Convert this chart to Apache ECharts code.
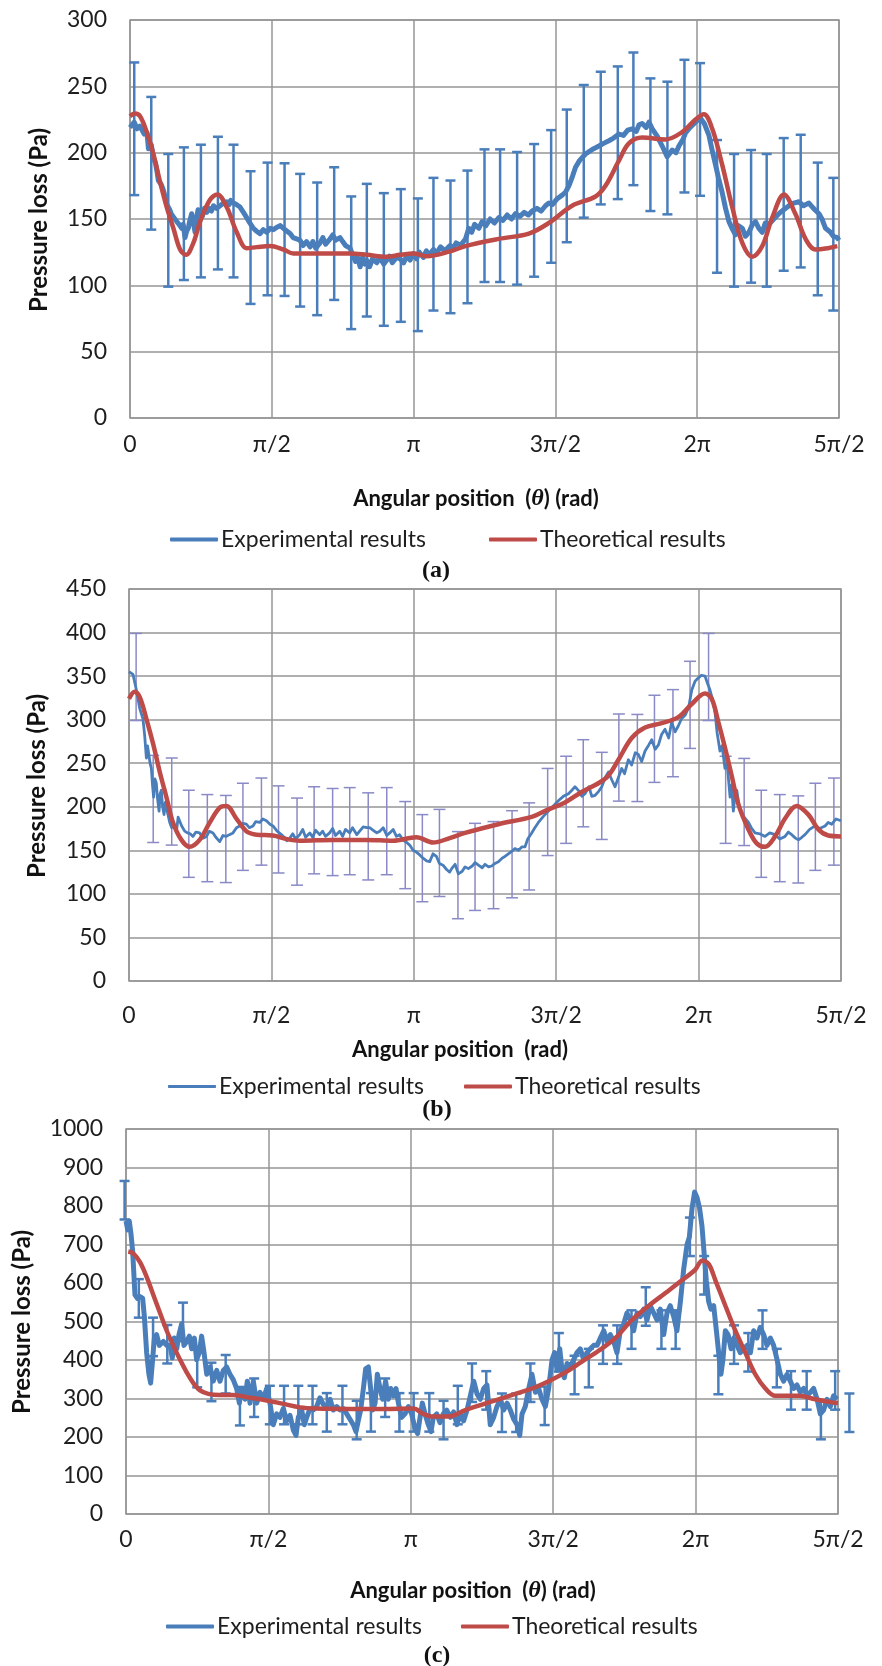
<!DOCTYPE html>
<html>
<head>
<meta charset="utf-8">
<script src="https://cdn.jsdelivr.net/npm/echarts@6.0.0/dist/echarts.min.js"></script>
<style>
  html, body { margin: 0; padding: 0; background: #fff; }
  #chart { width: 882px; height: 1666px; }
</style>
</head>
<body>
<div id="chart"></div>
<script>
// angular position is stored in multiples of pi/2 (0 .. 5 -> 0 .. 5pi/2)
const thetaLabels = ['0', 'π/2', 'π', '3π/2', '2π', '5π/2'];

// ---- (a) ----
const expA = [
  [0,219],[0.03,223],[0.05,218],[0.07,220],[0.10,214],[0.12,215],[0.13,203],[0.15,206],[0.165,196],[0.18,192],
  [0.19,186],[0.20,179],[0.22,176],[0.235,172],[0.25,166],[0.26,161],[0.28,157],[0.29,154],[0.31,151],[0.33,148],
  [0.345,146],[0.365,143],[0.375,146],[0.388,136],[0.40,141],[0.411,143],[0.42,148],[0.435,154],[0.447,147],[0.459,140],
  [0.47,151],[0.48,157],[0.494,156],[0.51,152],[0.525,158],[0.541,155],[0.56,158],[0.575,156],[0.588,160],[0.61,158],
  [0.635,160],[0.66,162],[0.682,163],[0.70,161],[0.71,164],[0.729,162],[0.75,161],[0.776,159],[0.80,155],[0.823,151],
  [0.845,147],[0.87,143],[0.89,141],[0.917,139],[0.94,142],[0.964,140],[0.99,143],[1.011,142],[1.04,144],[1.06,145],
  [1.082,143],[1.105,141],[1.129,139],[1.15,136],[1.175,135],[1.199,134],[1.22,130],[1.245,133],[1.27,129],[1.29,133],
  [1.31,128],[1.34,132],[1.36,136],[1.38,131],[1.411,135],[1.43,138],[1.45,134],[1.481,136],[1.50,133],[1.52,130],
  [1.552,128],[1.57,123],[1.59,118],[1.605,121],[1.623,114],[1.64,121],[1.655,116],[1.67,119],[1.69,114],[1.71,120],
  [1.74,117],[1.76,121],[1.79,116],[1.811,119],[1.83,122],[1.85,117],[1.88,121],[1.905,120],[1.93,117],[1.95,122],
  [1.975,119],[1.999,124],[2.02,120],[2.04,125],[2.069,121],[2.09,126],[2.11,123],[2.14,127],[2.16,124],[2.19,129],
  [2.22,126],[2.257,130],[2.28,128],[2.30,132],[2.33,130],[2.366,135],[2.389,143],[2.41,140],[2.43,146],[2.46,143],
  [2.483,148],[2.51,145],[2.54,150],[2.57,147],[2.601,151],[2.63,149],[2.66,153],[2.69,150],[2.718,154],[2.75,152],
  [2.78,155],[2.81,153],[2.836,156],[2.87,158],[2.90,156],[2.93,160],[2.954,162],[2.98,161],[3.01,165],[3.048,168],
  [3.07,170],[3.095,175],[3.12,182],[3.142,189],[3.17,194],[3.212,199],[3.24,201],[3.27,203],[3.307,205],[3.34,207],
  [3.377,209],[3.41,211],[3.448,214],[3.48,213],[3.51,217],[3.541,218],[3.57,216],[3.59,221],[3.612,222],[3.64,219],
  [3.66,223],[3.683,218],[3.72,212],[3.753,205],[3.788,197],[3.81,200],[3.824,202],[3.85,200],[3.871,205],[3.90,210],
  [3.918,215],[3.95,219],[3.988,223],[4.023,226],[4.05,222],[4.083,213],[4.105,202],[4.129,191],[4.15,181],[4.176,170],
  [4.20,158],[4.224,148],[4.25,142],[4.27,138],[4.29,145],[4.318,143],[4.34,137],[4.365,140],[4.39,146],[4.411,148],
  [4.435,143],[4.459,140],[4.48,147],[4.506,146],[4.54,150],[4.576,154],[4.61,157],[4.647,160],[4.68,162],[4.717,163],
  [4.75,160],[4.788,162],[4.82,158],[4.859,154],[4.88,150],[4.905,143],[4.94,140],[4.96,137],[4.988,136],[5.00,134]
];
const theoA = [
  [0,227.5],[0.035,229.5],[0.071,227.5],[0.118,215.5],[0.165,199],[0.212,178],[0.259,159],[0.306,143],[0.353,127],[0.395,123],
  [0.447,132],[0.494,148],[0.564,164.5],[0.616,168.5],[0.682,159],[0.753,140],[0.823,128],[0.894,128.8],[0.988,129.6],[1.082,127],
  [1.152,124],[1.317,124],[1.552,124],[1.670,123],[1.811,121.5],[1.905,123],[1.999,124],[2.093,122],[2.257,125.6],[2.366,129.6],
  [2.601,135],[2.813,139],[2.954,147],[3.118,160],[3.283,167],[3.353,175],[3.448,194],[3.518,207],[3.612,211.4],[3.776,210],
  [3.894,215.5],[3.988,225],[4.047,229],[4.106,218],[4.176,191],[4.247,159],[4.318,132],[4.388,121.5],[4.459,129.6],[4.529,151],
  [4.612,168.5],[4.693,153.7],[4.764,135],[4.835,127],[4.905,127.7],[4.988,129.6]
];
const errA_theta = [0.03,0.15,0.27,0.38,0.50,0.62,0.73,0.85,0.97,1.09,1.20,1.32,1.44,1.56,1.67,1.79,1.91,2.03,2.14,2.26,
  2.38,2.50,2.61,2.73,2.85,2.97,3.08,3.20,3.32,3.44,3.55,3.67,3.79,3.91,4.02,4.14,4.26,4.38,4.49,4.61,4.73,4.85,4.96];
const errA_mid = [218,192,149,154,156,162,156,136,142.5,142,134,127.5,139,117,126.5,119.5,122.5,115.5,131,129,
  136.5,152.5,152.5,150.5,156.5,167,182.5,201,211,215,225.5,206,203.5,220,217.5,159.5,149,152,149,161,163.5,142.5,131];

// ---- (b) ----
const expB = [
  [0,355],[0.028,352],[0.052,334],[0.075,313],[0.098,301],[0.11,282],[0.122,256],[0.13,270],[0.140,268],[0.148,250],
  [0.157,244],[0.165,225],[0.173,211],[0.182,232],[0.192,227],[0.20,210],[0.211,195],[0.219,215],[0.227,219],[0.236,200],
  [0.246,191],[0.255,205],[0.263,203],[0.275,190],[0.286,182],[0.30,176],[0.31,181],[0.321,178],[0.335,174],[0.345,188],
  [0.356,186],[0.37,178],[0.391,172],[0.41,170],[0.43,169],[0.449,166],[0.47,171],[0.496,170],[0.52,164],[0.544,166],
  [0.565,172],[0.59,170],[0.61,165],[0.637,160],[0.66,167],[0.684,166],[0.705,168],[0.73,170],[0.755,176],[0.777,178],
  [0.80,181],[0.824,180],[0.845,176],[0.871,178],[0.89,183],[0.918,182],[0.94,186],[0.965,184],[0.99,180],[1.011,178],
  [1.04,172],[1.07,168],[1.09,165],[1.11,161],[1.129,164],[1.15,169],[1.17,163],[1.199,168],[1.22,174],[1.24,165],
  [1.27,170],[1.29,165],[1.31,173],[1.339,168],[1.36,172],[1.38,166],[1.409,170],[1.43,175],[1.45,167],[1.48,172],
  [1.50,166],[1.52,174],[1.55,170],[1.57,176],[1.60,168],[1.62,172],[1.645,177],[1.67,176],[1.69,176],[1.715,173],
  [1.74,170],[1.761,172],[1.785,176],[1.81,167],[1.831,170],[1.855,174],[1.878,166],[1.90,168],[1.924,162],[1.95,159],
  [1.971,156],[1.995,150],[2.018,148],[2.04,145],[2.065,141],[2.09,138],[2.112,137],[2.135,146],[2.159,143],[2.18,135],
  [2.205,133],[2.23,128],[2.252,125],[2.266,129],[2.29,134],[2.313,123],[2.34,126],[2.36,131],[2.383,129],[2.41,132],
  [2.43,136],[2.454,133],[2.48,130],[2.50,134],[2.525,131],[2.547,132],[2.57,135],[2.594,137],[2.62,141],[2.64,143],
  [2.664,146],[2.69,149],[2.71,152],[2.735,150],[2.76,154],[2.781,154],[2.80,163],[2.828,170],[2.85,176],[2.875,182],
  [2.91,189],[2.945,195],[2.98,201],[3.015,207],[3.05,212],[3.086,215],[3.11,219],[3.132,223],[3.16,218],[3.18,212],
  [3.202,215],[3.23,223],[3.25,212],[3.272,213],[3.30,218],[3.320,223],[3.345,234],[3.367,240],[3.39,231],[3.413,223],
  [3.44,235],[3.460,244],[3.48,238],[3.507,254],[3.53,248],[3.555,262],[3.577,260],[3.60,252],[3.624,264],[3.65,271],
  [3.671,277],[3.695,266],[3.718,271],[3.74,283],[3.764,289],[3.79,279],[3.811,297],[3.835,286],[3.858,293],[3.88,301],
  [3.905,305],[3.93,314],[3.952,334],[3.975,344],[3.999,348],[4.02,351],[4.045,350],[4.06,343],[4.080,334],[4.10,322],
  [4.115,309],[4.13,285],[4.150,264],[4.165,270],[4.185,244],[4.20,250],[4.221,211],[4.232,225],[4.244,195],[4.256,214],
  [4.268,219],[4.285,200],[4.303,191],[4.325,187],[4.350,182],[4.37,176],[4.396,170],[4.43,169],[4.466,166],[4.50,170],
  [4.537,168],[4.57,163],[4.607,166],[4.63,171],[4.654,168],[4.68,164],[4.701,162],[4.725,165],[4.747,168],[4.78,174],
  [4.817,178],[4.85,175],[4.888,178],[4.91,182],[4.935,180],[4.965,186],[5.00,184]
];
const theoB = [
  [0,324],[0.040,332],[0.075,326],[0.122,301],[0.169,272.5],[0.216,240],[0.263,211],[0.309,182],[0.368,162],[0.426,154],
  [0.496,162],[0.567,182],[0.637,199],[0.684,201],[0.754,186.5],[0.824,172],[0.895,168],[1.011,167],[1.105,163],[1.199,161],
  [1.433,162],[1.667,162],[1.854,161],[2.018,165],[2.135,159],[2.252,164],[2.360,170],[2.594,180],[2.828,188.5],[2.945,197],
  [3.062,205],[3.179,217],[3.296,227],[3.367,236],[3.437,254],[3.530,279],[3.624,291],[3.741,296],[3.858,303],[3.952,318],
  [4.045,330],[4.092,324],[4.139,297],[4.185,268],[4.232,236],[4.279,203],[4.350,174],[4.408,158],[4.466,154],[4.537,166],
  [4.607,186.5],[4.689,201],[4.771,191],[4.841,174],[4.911,167],[5.000,166]
];
const errB_theta = [0.05,0.17,0.30,0.42,0.55,0.68,0.80,0.93,1.05,1.18,1.30,1.43,1.55,1.68,1.81,1.94,2.06,2.18,2.31,2.43,
  2.56,2.69,2.81,2.94,3.07,3.19,3.32,3.44,3.57,3.69,3.82,3.94,4.07,4.19,4.32,4.44,4.57,4.70,4.82,4.95];
const errB_mid = [349,209,206,169,164,163,177,183,174,160,173,171,172,166,172,156,141,147,121.5,131,
  133,145.5,154.5,194,208,227,212.5,256.5,256,278,284.5,317,349,208,205.5,169,164,162.5,177,183];

// ---- (c) ----
const expC = [
  [0,761],[0.012,738],[0.023,761],[0.035,728],[0.047,681],[0.063,569],[0.080,560],[0.098,565],[0.117,560],[0.129,513],
  [0.145,419],[0.161,363],[0.173,340],[0.187,401],[0.199,457],[0.215,466],[0.234,438],[0.262,448],[0.286,438],[0.309,438],
  [0.325,405],[0.339,457],[0.356,429],[0.372,466],[0.391,494],[0.407,438],[0.426,448],[0.445,462],[0.461,429],[0.480,457],
  [0.496,401],[0.515,419],[0.531,462],[0.548,419],[0.567,363],[0.590,382],[0.613,345],[0.637,373],[0.660,345],[0.683,373],
  [0.707,382],[0.730,363],[0.753,349],[0.777,326],[0.796,288],[0.812,326],[0.836,298],[0.852,345],[0.871,288],[0.894,345],
  [0.918,288],[0.941,316],[0.964,298],[0.988,326],[1.011,288],[1.034,232],[1.058,260],[1.081,251],[1.105,274],[1.128,242],
  [1.152,256],[1.175,218],[1.194,204],[1.210,251],[1.234,270],[1.252,232],[1.269,251],[1.292,274],[1.315,270],[1.339,279],
  [1.362,302],[1.386,284],[1.409,279],[1.433,298],[1.456,270],[1.480,279],[1.503,270],[1.526,274],[1.550,260],[1.573,246],
  [1.596,232],[1.615,214],[1.631,242],[1.648,270],[1.667,326],[1.683,377],[1.702,382],[1.718,326],[1.732,270],[1.749,288],
  [1.765,363],[1.784,326],[1.802,298],[1.823,345],[1.842,298],[1.859,326],[1.877,307],[1.896,326],[1.913,288],[1.936,251],
  [1.959,260],[1.983,279],[2.006,260],[2.029,223],[2.048,209],[2.065,251],[2.081,288],[2.100,260],[2.123,232],[2.142,214],
  [2.158,251],[2.182,260],[2.205,237],[2.228,260],[2.252,270],[2.278,251],[2.301,265],[2.324,232],[2.348,260],[2.371,242],
  [2.395,270],[2.418,307],[2.442,345],[2.465,312],[2.488,298],[2.512,326],[2.535,335],[2.558,232],[2.582,251],[2.605,279],
  [2.629,298],[2.652,270],[2.676,288],[2.699,270],[2.723,246],[2.746,232],[2.765,204],[2.781,260],[2.804,279],[2.828,326],
  [2.851,363],[2.875,316],[2.898,326],[2.921,298],[2.945,279],[2.968,326],[2.992,401],[3.010,419],[3.027,373],[3.046,429],
  [3.062,373],[3.078,354],[3.097,391],[3.120,382],[3.144,401],[3.167,419],[3.190,429],[3.214,401],[3.237,419],[3.261,429],
  [3.284,438],[3.308,438],[3.331,457],[3.355,476],[3.378,448],[3.401,466],[3.425,448],[3.448,419],[3.471,476],[3.495,494],
  [3.518,522],[3.542,504],[3.565,476],[3.589,522],[3.612,513],[3.635,532],[3.659,504],[3.682,541],[3.706,522],[3.729,504],
  [3.752,532],[3.776,466],[3.799,522],[3.822,541],[3.846,513],[3.869,476],[3.893,551],[3.916,635],[3.940,700],[3.956,719],
  [3.975,794],[3.993,836],[4.010,822],[4.028,794],[4.045,747],[4.061,672],[4.075,607],[4.092,551],[4.108,532],[4.127,541],
  [4.146,476],[4.162,419],[4.178,363],[4.192,401],[4.209,476],[4.228,466],[4.249,429],[4.268,457],[4.291,438],[4.314,419],
  [4.338,429],[4.361,438],[4.385,419],[4.408,476],[4.431,457],[4.454,485],[4.478,466],[4.501,438],[4.525,457],[4.548,438],
  [4.572,401],[4.595,363],[4.618,345],[4.642,363],[4.665,345],[4.689,326],[4.712,335],[4.735,316],[4.759,326],[4.782,307],
  [4.806,316],[4.829,326],[4.853,298],[4.876,260],[4.899,270],[4.923,298],[4.946,279],[4.969,307],[4.993,298]
];
const theoC = [
  [0.016,682],[0.051,677],[0.098,654],[0.145,616],[0.192,569],[0.239,522],[0.286,476],[0.332,438],[0.379,401],[0.426,368],
  [0.473,340],[0.520,321],[0.578,312],[0.660,309],[0.753,309],[0.871,302],[0.988,295],[1.105,286],[1.222,277],[1.339,274],
  [1.573,273],[1.807,273],[2.018,274],[2.088,260],[2.158,253],[2.275,254],[2.383,270],[2.500,284],[2.617,298],[2.734,312],
  [2.851,326],[2.968,345],[3.085,368],[3.202,396],[3.319,424],[3.436,457],[3.553,504],[3.671,541],[3.788,574],[3.904,607],
  [3.998,635],[4.045,658],[4.092,649],[4.139,607],[4.209,541],[4.279,476],[4.349,419],[4.419,363],[4.490,326],[4.560,307],
  [4.724,307],[4.841,298],[4.958,290],[5.000,288]
];
const errC_theta = [-0.01,0.09,0.19,0.29,0.40,0.50,0.60,0.70,0.80,0.90,1.01,1.11,1.21,1.31,1.41,1.52,1.62,1.72,1.82,1.92,
  2.02,2.13,2.23,2.33,2.43,2.53,2.64,2.74,2.84,2.94,3.04,3.15,3.25,3.35,3.45,3.55,3.65,3.76,3.86,3.96,
  4.06,4.16,4.27,4.37,4.47,4.57,4.67,4.78,4.88,4.98,5.08];
const errC_mid = [815,560,460,441,499,379,343,363,280,302,283,283,283,283,264,283,244,264,302,264,
  264,264,244,283,341,321,263,263,341,281,420,361,379,440,440,479,539,479,479,720,
  620,361,440,420,479,379,321,321,244,321,263];

// error bar half-length (Pa), same on every panel
const errHalf = 50;

const BLUE = '#4a7ebb';
const RED = '#be4b48';
const LAVENDER = '#8a8ac6';
const GRID_LINE = '#969696';
const FONT = 'Lato, "Open Sans", sans-serif';
const TICK_SIZE = 23;

const chart = echarts.init(document.getElementById('chart'));

function xAxisFor(gridIndex, margin) {
  return {
    type: 'value', gridIndex, min: 0, max: 5, interval: 1,
    axisLine: { show: false }, axisTick: { show: false },
    splitLine: { show: true, lineStyle: { color: GRID_LINE, width: 1.5 } },
    axisLabel: {
      margin, fontFamily: FONT, fontSize: TICK_SIZE, color: '#1e1e1e',
      formatter: (v) => thetaLabels[Math.round(v)]
    }
  };
}

function yAxisFor(gridIndex, max, interval) {
  return {
    type: 'value', gridIndex, min: 0, max, interval,
    axisLine: { show: false }, axisTick: { show: false },
    splitLine: { show: true, lineStyle: { color: GRID_LINE, width: 1.5 } },
    axisLabel: {
      margin: 23, fontFamily: FONT, fontSize: TICK_SIZE, color: '#1e1e1e',
      formatter: (v) => String(v)
    }
  };
}

function errorBars(idx, theta, mid, color, width, cap) {
  return {
    type: 'custom', name: 'error', xAxisIndex: idx, yAxisIndex: idx,
    clip: false, silent: true, z: 1,
    data: theta.map((t, i) => [t, mid[i] - errHalf, mid[i] + errHalf]),
    encode: { x: 0, y: [1, 2] },
    renderItem: (params, api) => {
      const lo = api.coord([api.value(0), api.value(1)]);
      const hi = api.coord([api.value(0), api.value(2)]);
      const st = { stroke: color, lineWidth: width };
      return {
        type: 'group',
        children: [
          { type: 'line', shape: { x1: lo[0], y1: lo[1], x2: hi[0], y2: hi[1] }, style: st },
          { type: 'line', shape: { x1: hi[0] - cap, y1: hi[1], x2: hi[0] + cap, y2: hi[1] }, style: st },
          { type: 'line', shape: { x1: lo[0] - cap, y1: lo[1], x2: lo[0] + cap, y2: lo[1] }, style: st }
        ]
      };
    }
  };
}

function expLine(idx, data, width) {
  return {
    type: 'line', name: 'Experimental results', xAxisIndex: idx, yAxisIndex: idx,
    data, showSymbol: false, symbol: 'none', z: 3,
    lineStyle: { color: BLUE, width, join: 'round' }, itemStyle: { color: BLUE }
  };
}

function theoLine(idx, data) {
  return {
    type: 'line', name: 'Theoretical results', xAxisIndex: idx, yAxisIndex: idx,
    data, showSymbol: false, symbol: 'none', smooth: 0.35, z: 4,
    lineStyle: { color: RED, width: 4.5 }, itemStyle: { color: RED }
  };
}

function legendItem(name, left, top, h) {
  return {
    data: [name], left, top, padding: 0, selectedMode: false,
    icon: 'roundRect', itemWidth: 48, itemHeight: h, itemGap: 0,
    textStyle: { fontFamily: FONT, fontSize: 23, color: '#1e1e1e', padding: [0, 0, 0, -2] }
  };
}

function text(x, y, content, opts) {
  return {
    type: 'text', x, y, silent: true,
    style: Object.assign({
      text: content, align: 'center', verticalAlign: 'middle', fill: '#111'
    }, opts || {})
  };
}

const boldFont = 'bold 22px Lato, "Open Sans", sans-serif';
const yTitleFont = 'bold 24px Lato, "Open Sans", sans-serif';
const thetaRich = {
  b: { fontFamily: FONT, fontWeight: 'bold', fontSize: 22, fill: '#111' },
  i: { fontFamily: '"Liberation Serif", serif', fontStyle: 'italic', fontWeight: 'bold', fontSize: 24, fill: '#111' }
};

const option = {
  backgroundColor: '#fff',
  animation: false,
  grid: [
    { left: 130, top: 20, width: 709, height: 398, show: true, borderColor: GRID_LINE, borderWidth: 1.5, backgroundColor: 'transparent' },
    { left: 129, top: 589, width: 712, height: 392, show: true, borderColor: GRID_LINE, borderWidth: 1.5, backgroundColor: 'transparent' },
    { left: 126, top: 1129, width: 712, height: 385, show: true, borderColor: GRID_LINE, borderWidth: 1.5, backgroundColor: 'transparent' }
  ],
  xAxis: [xAxisFor(0, 15), xAxisFor(1, 23), xAxisFor(2, 14)],
  yAxis: [yAxisFor(0, 300, 50), yAxisFor(1, 450, 50), yAxisFor(2, 1000, 100)],
  legend: [
    legendItem('Experimental results', 170, 528, 4),
    legendItem('Theoretical results', 489, 528, 4),
    legendItem('Experimental results', 168, 1075, 3),
    legendItem('Theoretical results', 464, 1075, 4),
    legendItem('Experimental results', 166, 1615, 4),
    legendItem('Theoretical results', 461, 1615, 4)
  ],
  series: [
    errorBars(0, errA_theta, errA_mid, BLUE, 2.5, 5),
    expLine(0, expA, 5),
    theoLine(0, theoA),
    errorBars(1, errB_theta, errB_mid, LAVENDER, 1.5, 6),
    expLine(1, expB, 2.8),
    theoLine(1, theoB),
    errorBars(2, errC_theta, errC_mid, BLUE, 2.5, 5),
    expLine(2, expC, 5),
    theoLine(2, theoC)
  ],
  graphic: [
    text(39, 220, 'Pressure loss (Pa)', { font: yTitleFont }),
    text(37, 786, 'Pressure loss (Pa)', { font: yTitleFont }),
    text(22, 1322, 'Pressure loss (Pa)', { font: yTitleFont }),
    text(476, 499, '{b|Angular position  (}{i|θ}{b|) (rad)}', { rich: thetaRich }),
    text(460, 1050, 'Angular position  (rad)', { font: boldFont }),
    text(473, 1591, '{b|Angular position  (}{i|θ}{b|) (rad)}', { rich: thetaRich }),
    text(436, 571, '(a)', { font: 'bold 24px "Liberation Serif", serif' }),
    text(437, 1110, '(b)', { font: 'bold 24px "Liberation Serif", serif' }),
    text(437, 1656, '(c)', { font: 'bold 24px "Liberation Serif", serif' })
  ]
};

// rotate the y-axis titles
[0, 1, 2].forEach((i) => { option.graphic[i].rotation = Math.PI / 2; });

chart.setOption(option);
</script>
</body>
</html>
